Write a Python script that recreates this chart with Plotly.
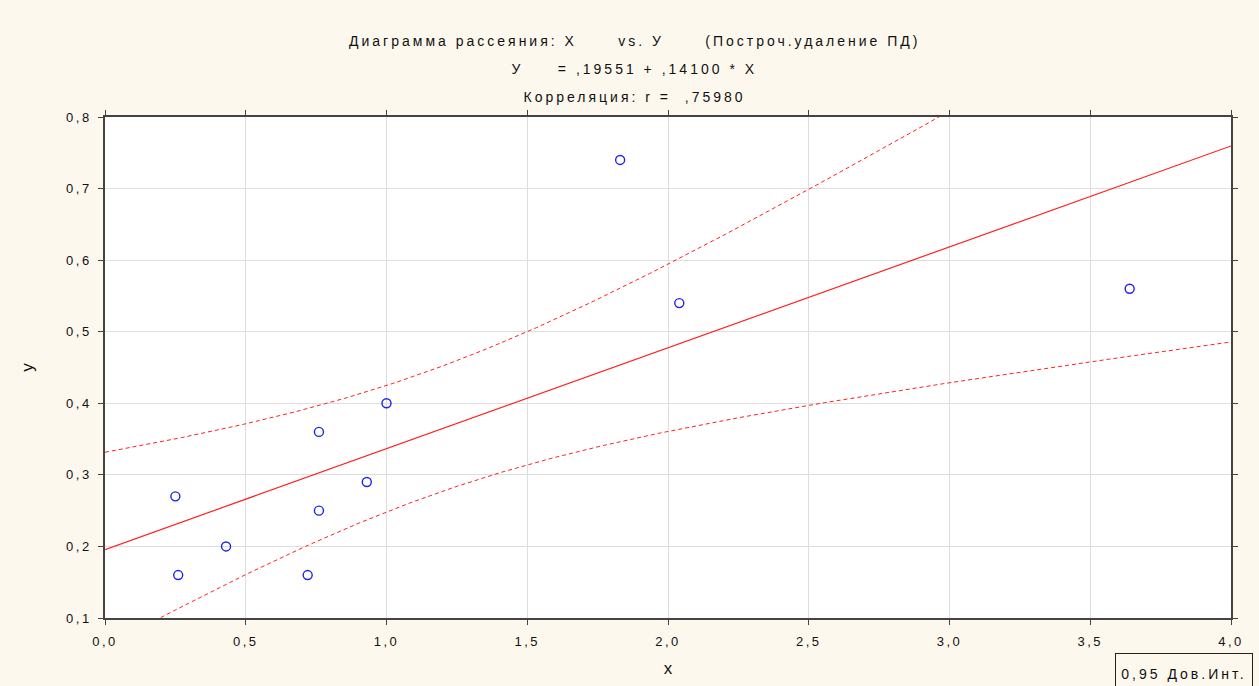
import numpy as np
import plotly.graph_objects as go

# Data
x_vals = [0.25, 0.26, 0.43, 0.72, 0.76, 0.76, 0.93, 1.00, 1.83, 2.04, 3.64]
y_vals = [0.27, 0.16, 0.20, 0.16, 0.36, 0.25, 0.29, 0.40, 0.74, 0.54, 0.56]
intercept = 0.19551
slope = 0.14100
t_crit = 2.262  # t(0.975, df=9)
x_ticks = [0.0, 0.5, 1.0, 1.5, 2.0, 2.5, 3.0, 3.5, 4.0]
y_ticks = [0.1, 0.2, 0.3, 0.4, 0.5, 0.6, 0.7, 0.8]

xa = np.array(x_vals)
ya = np.array(y_vals)
n = len(xa)
xm = xa.mean()
sxx = ((xa - xm) ** 2).sum()
resid = ya - (intercept + slope * xa)
s = np.sqrt((resid ** 2).sum() / (n - 2))

xg = np.linspace(0, 4, 400)
yfit = intercept + slope * xg
half = t_crit * s * np.sqrt(1.0 / n + (xg - xm) ** 2 / sxx)

FONT = "Liberation Sans, Arial, sans-serif"
TXT = "#111111"
RED = "#ff2020"

fig = go.Figure()
fig.add_trace(go.Scatter(x=xg, y=yfit + half, mode="lines",
                         line=dict(color=RED, width=1, dash="4px,3px"), hoverinfo="skip"))
fig.add_trace(go.Scatter(x=xg, y=yfit - half, mode="lines",
                         line=dict(color=RED, width=1, dash="4px,3px"), hoverinfo="skip"))
fig.add_trace(go.Scatter(x=xg, y=yfit, mode="lines",
                         line=dict(color=RED, width=1.2), hoverinfo="skip"))
fig.add_trace(go.Scatter(x=x_vals, y=y_vals, mode="markers",
                         marker=dict(symbol="circle-open", size=9, color="#2222ee",
                                     line=dict(width=1.4, color="#2222ee"))))

nb = "\u00a0"
line1 = "Диаграмма рассеяния: X" + nb * 6 + "vs. У" + nb * 6 + "(Построч.удаление ПД)"
line2 = "У" + nb * 5 + "= ,19551 + ,14100 * X"
line3 = "Корреляция: r =" + nb * 2 + ",75980"

px = (634 - 105) / 1126
anns = []
for txt, shift in [(line1, 76), (line2, 48), (line3, 20)]:
    anns.append(dict(text=txt, xref="paper", yref="paper", x=px, y=1, xanchor="center",
                     yanchor="middle", yshift=shift, showarrow=False,
                     font=dict(family=FONT, size=14, color=TXT)))
anns.append(dict(text="0,95 Дов.Инт.", xref="paper", yref="paper", x=(1253 - 105) / 1126, y=0,
                 xanchor="right", yanchor="top", yshift=-35, showarrow=False,
                 width=126, height=30, borderpad=5,
                 bordercolor="#222222", borderwidth=1, bgcolor="#fdf8ee",
                 font=dict(family=FONT, size=14, color=TXT)))

axis_common = dict(showline=True, linecolor="#444444", linewidth=1.5, mirror="ticks",
                   showgrid=True, gridcolor="#dedede", gridwidth=1, zeroline=False,
                   ticks="outside", ticklen=5, tickcolor="#444444", automargin=False,
                   tickfont=dict(family=FONT, size=13, color=TXT), tickformat=".1f")

fig.update_layout(
    width=1259, height=686,
    margin=dict(l=105, r=28, t=117, b=68),
    paper_bgcolor="#fdf8ee", plot_bgcolor="#ffffff",
    showlegend=False,
    separators=", ",
    annotations=anns,
    xaxis=dict(range=[0, 4], tickvals=x_ticks, ticklabelstandoff=6,
               title=dict(text="x", font=dict(family=FONT, size=17, color=TXT), standoff=14),
               **axis_common),
    yaxis=dict(range=[0.1, 0.8], tickvals=y_ticks, ticklabelstandoff=4,
               title=dict(text="y", font=dict(family=FONT, size=17, color=TXT), standoff=36),
               **axis_common),
)

post = ("var st=document.createElement('style');"
        "st.innerHTML='.annotation-text{letter-spacing:3px}"
        " .xtick text,.ytick text{letter-spacing:2.5px}';"
        "document.head.appendChild(st);")
fig.write_html("out.html", post_script=post)
